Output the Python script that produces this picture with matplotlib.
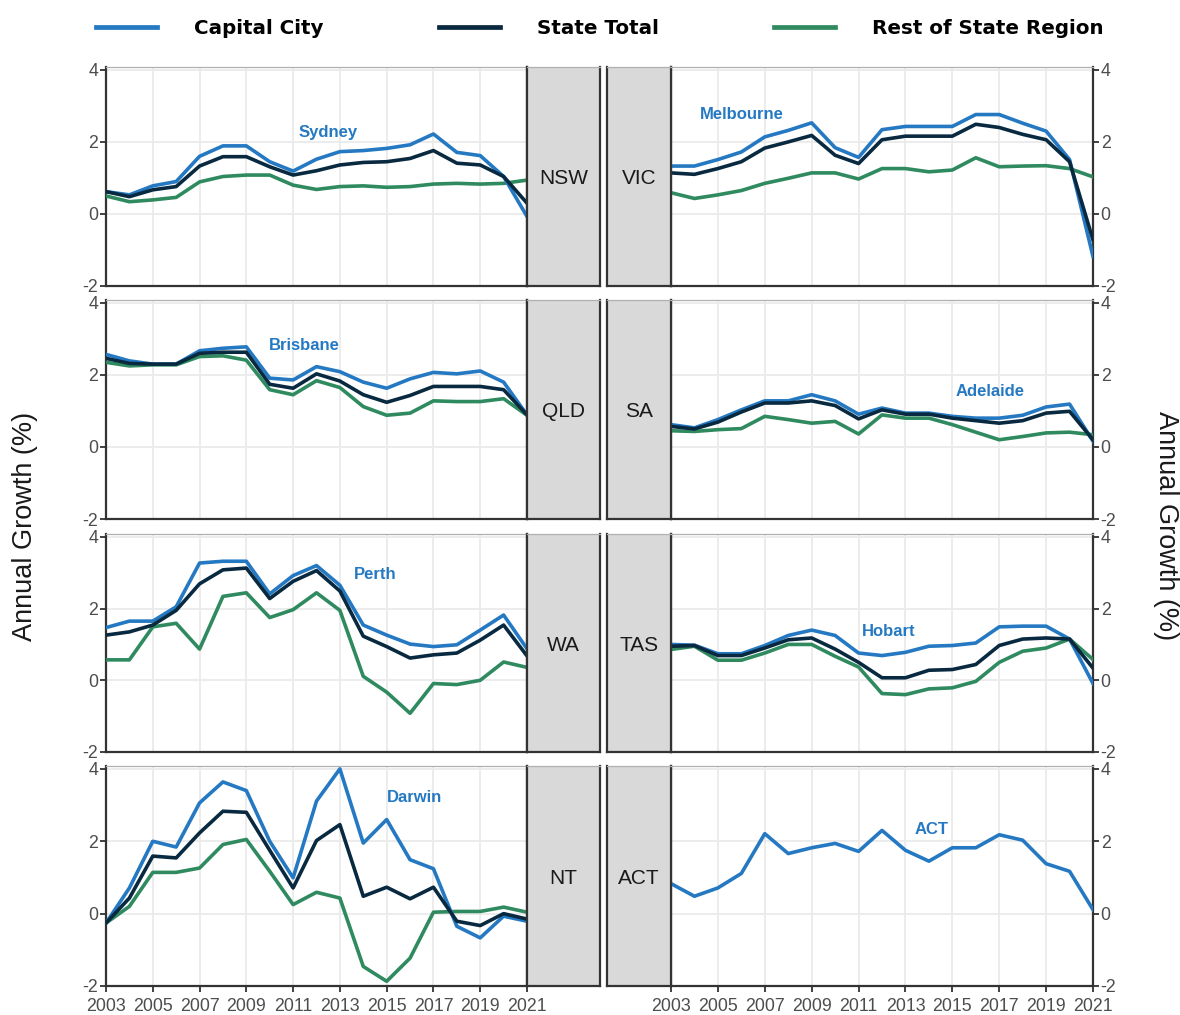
#!/usr/bin/env python3
"""
Annual population growth by state: capital city vs state total vs rest of state
Recreated as a 4x2 facet grid with state strips beside each panel
"""

import matplotlib
matplotlib.use('Agg')
import matplotlib.pyplot as plt
from matplotlib.lines import Line2D

plt.rcParams['font.family'] = ['Liberation Sans', 'DejaVu Sans']
plt.rcParams['axes.unicode_minus'] = False

years = list(range(2003, 2022))

# --- data (annual growth, %) ---
nsw_cap = [0.62, 0.53, 0.78, 0.90, 1.60, 1.89, 1.89, 1.45, 1.19, 1.52, 1.73, 1.76, 1.82, 1.92, 2.22, 1.71, 1.62, 1.04, -0.07]
nsw_tot = [0.62, 0.48, 0.67, 0.76, 1.33, 1.59, 1.59, 1.31, 1.08, 1.20, 1.36, 1.43, 1.45, 1.54, 1.76, 1.41, 1.36, 1.04, 0.30]
nsw_rest = [0.50, 0.34, 0.39, 0.46, 0.89, 1.04, 1.08, 1.08, 0.80, 0.68, 0.76, 0.78, 0.74, 0.76, 0.83, 0.85, 0.83, 0.85, 0.94]

vic_cap = [1.33, 1.33, 1.51, 1.72, 2.14, 2.32, 2.53, 1.84, 1.57, 2.34, 2.43, 2.43, 2.43, 2.76, 2.76, 2.52, 2.30, 1.51, -1.18]
vic_tot = [1.14, 1.10, 1.26, 1.45, 1.83, 2.00, 2.18, 1.63, 1.40, 2.06, 2.16, 2.16, 2.16, 2.49, 2.40, 2.21, 2.06, 1.45, -0.72]
vic_rest = [0.59, 0.43, 0.53, 0.65, 0.85, 0.99, 1.14, 1.14, 0.97, 1.26, 1.26, 1.17, 1.22, 1.56, 1.31, 1.33, 1.34, 1.26, 1.03]

qld_cap = [2.57, 2.39, 2.30, 2.30, 2.67, 2.74, 2.78, 1.91, 1.86, 2.23, 2.09, 1.80, 1.63, 1.89, 2.07, 2.03, 2.11, 1.80, 0.89]
qld_tot = [2.46, 2.32, 2.30, 2.30, 2.60, 2.63, 2.63, 1.74, 1.63, 2.03, 1.83, 1.45, 1.24, 1.43, 1.68, 1.68, 1.68, 1.59, 0.89]
qld_rest = [2.35, 2.25, 2.28, 2.28, 2.51, 2.53, 2.41, 1.59, 1.45, 1.84, 1.65, 1.12, 0.88, 0.94, 1.28, 1.26, 1.26, 1.34, 0.88]

sa_cap = [0.62, 0.53, 0.76, 1.03, 1.28, 1.28, 1.45, 1.28, 0.91, 1.08, 0.94, 0.94, 0.85, 0.80, 0.80, 0.88, 1.11, 1.19, 0.16]
sa_tot = [0.57, 0.50, 0.69, 0.97, 1.22, 1.22, 1.28, 1.15, 0.78, 1.03, 0.91, 0.91, 0.80, 0.73, 0.66, 0.73, 0.94, 0.99, 0.20]
sa_rest = [0.45, 0.43, 0.48, 0.51, 0.85, 0.76, 0.66, 0.71, 0.36, 0.89, 0.80, 0.80, 0.62, 0.41, 0.20, 0.29, 0.39, 0.41, 0.34]

wa_cap = [1.47, 1.65, 1.65, 2.05, 3.27, 3.32, 3.32, 2.41, 2.92, 3.20, 2.65, 1.54, 1.26, 1.01, 0.94, 0.99, 1.40, 1.82, 0.88]
wa_tot = [1.26, 1.35, 1.54, 1.95, 2.69, 3.08, 3.13, 2.28, 2.76, 3.06, 2.49, 1.23, 0.94, 0.62, 0.71, 0.76, 1.12, 1.54, 0.68]
wa_rest = [0.57, 0.57, 1.49, 1.59, 0.87, 2.34, 2.44, 1.75, 1.97, 2.44, 1.95, 0.11, -0.33, -0.92, -0.09, -0.12, 0.00, 0.51, 0.36]

tas_cap = [1.00, 0.98, 0.74, 0.74, 0.97, 1.25, 1.40, 1.25, 0.76, 0.69, 0.78, 0.95, 0.97, 1.04, 1.49, 1.51, 1.51, 1.15, -0.09]
tas_tot = [0.95, 0.97, 0.69, 0.69, 0.90, 1.13, 1.18, 0.87, 0.50, 0.07, 0.07, 0.28, 0.30, 0.44, 0.97, 1.15, 1.18, 1.15, 0.34]
tas_rest = [0.86, 0.95, 0.56, 0.56, 0.76, 1.00, 1.00, 0.67, 0.37, -0.37, -0.40, -0.24, -0.21, -0.03, 0.50, 0.81, 0.90, 1.15, 0.58]

nt_cap = [-0.26, 0.71, 2.00, 1.84, 3.06, 3.64, 3.40, 2.00, 0.99, 3.11, 4.00, 1.95, 2.60, 1.49, 1.24, -0.35, -0.67, -0.07, -0.21]
nt_tot = [-0.26, 0.43, 1.59, 1.54, 2.23, 2.83, 2.80, 1.75, 0.71, 2.02, 2.46, 0.48, 0.73, 0.41, 0.73, -0.21, -0.33, 0.00, -0.15]
nt_rest = [-0.26, 0.20, 1.14, 1.14, 1.26, 1.91, 2.05, 1.17, 0.25, 0.59, 0.43, -1.46, -1.87, -1.23, 0.04, 0.06, 0.06, 0.18, 0.04]

act_cap = [0.83, 0.48, 0.71, 1.11, 2.21, 1.66, 1.82, 1.94, 1.72, 2.30, 1.75, 1.45, 1.82, 1.82, 2.18, 2.03, 1.38, 1.17, 0.11]

series_names = ['Capital City', 'State Total', 'Rest of State Region']

BLUE = '#2479c2'
DARK = '#08293f'
GREEN = '#2f8a5f'
STRIP = '#d9d9d9'
SPINE = '#333333'
TOPLINE = '#b0b0b0'
GRID = '#ebebeb'
TICKTXT = '#4d4d4d'

# (state, city label, capital, total, rest, label x, label y, column, row)
panels = [
    ('NSW', 'Sydney', nsw_cap, nsw_tot, nsw_rest, 2012.5, 2.25, 0, 0),
    ('VIC', 'Melbourne', vic_cap, vic_tot, vic_rest, 2006.0, 2.75, 1, 0),
    ('QLD', 'Brisbane', qld_cap, qld_tot, qld_rest, 2011.5, 2.83, 0, 1),
    ('SA', 'Adelaide', sa_cap, sa_tot, sa_rest, 2016.6, 1.53, 1, 1),
    ('WA', 'Perth', wa_cap, wa_tot, wa_rest, 2014.5, 2.94, 0, 2),
    ('TAS', 'Hobart', tas_cap, tas_tot, tas_rest, 2012.3, 1.36, 1, 2),
    ('NT', 'Darwin', nt_cap, nt_tot, nt_rest, 2016.2, 3.22, 0, 3),
    ('ACT', 'ACT', act_cap, None, None, 2014.1, 2.33, 1, 3),
]

W, H = 1180, 1015
fig = plt.figure(figsize=(W / 100, H / 100), dpi=100)

rows_px = [(67, 286), (300, 519), (534, 752), (766, 986)]
cols_px = [  # (plot x0, plot x1, strip x0, strip x1)
    (106, 527, 527, 600),
    (671, 1093, 607, 671),
]


def px_axes(x0, y0, x1, y1):
    return fig.add_axes([x0 / W, 1 - y1 / H, (x1 - x0) / W, (y1 - y0) / H])


for state, city, cap, tot, rest, lx, ly, col, row in panels:
    y0, y1 = rows_px[row]
    px0, px1, sx0, sx1 = cols_px[col]

    ax = px_axes(px0, y0, px1, y1)
    ax.set_xlim(2003, 2021)
    ax.set_ylim(-2, 4.08)
    ax.set_xticks(range(2003, 2022, 2))
    ax.set_yticks([-2, 0, 2, 4])
    ax.grid(True, color=GRID, linewidth=1.3)
    ax.set_axisbelow(True)

    if rest is not None:
        ax.plot(years, rest, color=GREEN, linewidth=2.6, zorder=3)
    ax.plot(years, cap, color=BLUE, linewidth=2.6, zorder=4)
    if tot is not None:
        ax.plot(years, tot, color=DARK, linewidth=2.6, zorder=5)

    ax.text(lx, ly, city, color=BLUE, fontsize=12, fontweight='bold',
            ha='center', va='center', zorder=6)

    for s in ['left', 'right', 'bottom']:
        ax.spines[s].set_color(SPINE)
        ax.spines[s].set_linewidth(1.6)
    ax.spines['top'].set_color(TOPLINE)
    ax.spines['top'].set_linewidth(0.9)

    ax.tick_params(axis='both', colors=SPINE, labelcolor=TICKTXT,
                   labelsize=12.8, length=4.5, width=1.3, pad=1)
    ax.tick_params(axis='x', pad=4)
    if col == 0:
        ax.yaxis.tick_left()
    else:
        ax.yaxis.tick_right()
    if row == 3:
        ax.tick_params(axis='x', bottom=True, labelbottom=True)
    else:
        ax.tick_params(axis='x', bottom=False, labelbottom=False)

    # state strip beside the panel
    sax = px_axes(sx0, y0, sx1, y1)
    sax.set_facecolor(STRIP)
    sax.set_xticks([])
    sax.set_yticks([])
    for s in ['left', 'right', 'bottom']:
        sax.spines[s].set_color(SPINE)
        sax.spines[s].set_linewidth(1.6)
    sax.spines['top'].set_color(TOPLINE)
    sax.spines['top'].set_linewidth(0.9)
    sax.text(0.5, 0.49, state, transform=sax.transAxes, ha='center',
             va='center', fontsize=15, color='#1a1a1a')

# axis titles on both sides
fig.text(25 / W, 1 - 526 / H, 'Annual Growth (%)', rotation=90,
         ha='center', va='center', fontsize=19.5, color='#1a1a1a')
fig.text(1166 / W, 1 - 526 / H, 'Annual Growth (%)', rotation=270,
         ha='center', va='center', fontsize=19.5, color='#1a1a1a')

# legend across the top
handles = [Line2D([0], [0], color=c, linewidth=3.4) for c in (BLUE, DARK, GREEN)]
fig.legend(handles, series_names, loc='center', bbox_to_anchor=(600 / W, 1 - 28 / H),
           ncol=3, frameon=False, handlelength=3.07, handletextpad=1.86,
           columnspacing=5.8,
           prop={'family': 'DejaVu Sans', 'weight': 'bold', 'size': 14.3})

plt.savefig('out.png', dpi=100)
print("Saved: out.png")
